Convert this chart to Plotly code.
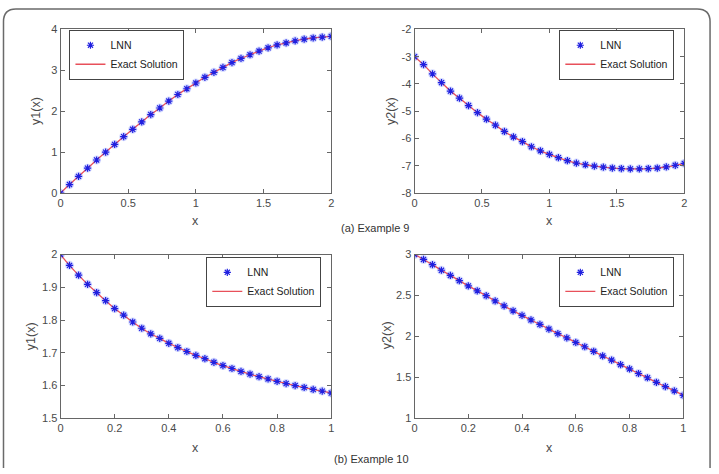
import plotly.graph_objects as go

W, H = 719, 474

# ---------------- data ----------------
x_ex9 = [i * 2 / 30 for i in range(31)]
x_ex10 = [i / 30 for i in range(31)]

y1_ex9 = [0.0, 0.21, 0.41, 0.61, 0.81, 1.0, 1.19, 1.38, 1.56, 1.74, 1.92, 2.08,
          2.25, 2.41, 2.55, 2.69, 2.83, 2.95, 3.07, 3.19, 3.29, 3.38, 3.47, 3.55,
          3.62, 3.67, 3.72, 3.76, 3.79, 3.81, 3.83]
y2_ex9 = [-3.0, -3.29, -3.63, -3.95, -4.26, -4.52, -4.79, -5.05, -5.29, -5.51,
          -5.74, -5.94, -6.11, -6.30, -6.45, -6.58, -6.70, -6.81, -6.90, -6.96,
          -7.01, -7.05, -7.08, -7.10, -7.11, -7.11, -7.10, -7.08, -7.04, -6.98,
          -6.91]
y1_ex10 = [2.0, 1.967, 1.937, 1.909, 1.884, 1.859, 1.835, 1.815, 1.794, 1.775,
           1.758, 1.744, 1.729, 1.716, 1.704, 1.692, 1.682, 1.671, 1.661, 1.652,
           1.643, 1.635, 1.627, 1.620, 1.613, 1.606, 1.600, 1.594, 1.588, 1.583,
           1.577]
y2_ex10 = [3.0, 2.94, 2.876, 2.808, 2.745, 2.681, 2.617, 2.557, 2.497, 2.433,
           2.373, 2.313, 2.257, 2.201, 2.146, 2.09, 2.034, 1.982, 1.926, 1.874,
           1.818, 1.762, 1.711, 1.655, 1.603, 1.547, 1.495, 1.439, 1.387, 1.335,
           1.28]

# tick values / labels (hyphen minus as in the original)
y2_ex9_tickvals = [-8, -7, -6, -5, -4, -3, -2]
y2_ex9_ticktext = ["-8", "-7", "-6", "-5", "-4", "-3", "-2"]

panels = [
    # x, y, xaxis, yaxis, legend, ytitle, yrange, dtick, xrange, xdtick
    (x_ex9, y1_ex9, "x", "y", "legend", "y1(x)", [0, 4], 1, [0, 2], 0.5),
    (x_ex9, y2_ex9, "x2", "y2", "legend2", "y2(x)", [-8, -2], 1, [0, 2], 0.5),
    (x_ex10, y1_ex10, "x3", "y3", "legend3", "y1(x)", [1.5, 2], 0.1, [0, 1], 0.2),
    (x_ex10, y2_ex10, "x4", "y4", "legend4", "y2(x)", [1, 3], 0.5, [0, 1], 0.2),
]

# pixel boxes of plot areas: (left, right, top, bottom)
boxes = [(58, 331, 24, 192), (415, 687, 24, 192),
         (58, 331, 255, 423), (415, 686, 255, 423)]
# legend box centres (pixels)
legend_ctr = [(125, 50), (619, 50), (263, 283), (619, 283)]
# axis-title positions (pixels): x-title centre, y-title centre
xtitle_pos = [(194, 221), (551, 221), (194, 453), (551, 453)]
ytitle_pos = [(34, 108), (392, 108), (29, 339), (388, 338)]

FONT = "Liberation Sans, Arial, sans-serif"
AX = "#666666"
TXT = "#4a4a4a"

fig = go.Figure()
layout = dict(width=W, height=H, margin=dict(l=0, r=0, t=0, b=0),
              paper_bgcolor="white", plot_bgcolor="white",
              font=dict(family=FONT, size=11, color=TXT))
annotations = []

for i, (xs, ys, xa, ya, lg, ytitle, yr, ydt, xr, xdt) in enumerate(panels):
    fig.add_trace(go.Scatter(x=xs, y=ys, xaxis=xa, yaxis=ya, mode="markers",
                             marker=dict(symbol="circle", size=9,
                                         color="rgba(120,140,255,0.30)"),
                             showlegend=False, hoverinfo="skip"))
    fig.add_trace(go.Scatter(x=xs, y=ys, xaxis=xa, yaxis=ya, mode="lines",
                             name="Exact Solution", legend=lg,
                             line=dict(color="#e8505a", width=1.3, shape="spline")))
    fig.add_trace(go.Scatter(x=xs, y=ys, xaxis=xa, yaxis=ya, mode="markers",
                             name="LNN", legend=lg,
                             marker=dict(symbol="asterisk-open", size=6,
                                         color="#2020e0",
                                         line=dict(color="#2020e0", width=1.2))))
    l, r, t, b = boxes[i]
    sfx = "" if i == 0 else str(i + 1)
    common = dict(showline=True, linecolor=AX, linewidth=1, mirror="ticks",
                  ticks="inside", ticklen=4, tickcolor=AX, showgrid=False,
                  zeroline=False, tickfont=dict(size=11, color=TXT, family=FONT))
    layout["xaxis" + sfx] = dict(domain=[l / W, r / W], range=xr, dtick=xdt,
                                 tick0=0, anchor=ya, **common)
    ydict = dict(domain=[1 - b / H, 1 - t / H], range=yr,
                 dtick=ydt, tick0=0, anchor=xa, **common)
    if i == 1:
        ydict.update(tickmode="array", tickvals=y2_ex9_tickvals,
                     ticktext=y2_ex9_ticktext)
    layout["yaxis" + sfx] = ydict
    cx, cy = legend_ctr[i]
    layout[lg] = dict(x=cx / W, y=1 - cy / H, xanchor="center", yanchor="middle",
                      bgcolor="white", bordercolor="#444", borderwidth=1,
                      font=dict(size=10.5, color="#222", family=FONT),
                      itemwidth=30, tracegroupgap=0, traceorder="reversed")
    tx, ty = xtitle_pos[i]
    annotations.append(dict(text="x", x=tx / W, y=1 - ty / H, xref="paper",
                            yref="paper", showarrow=False,
                            xanchor="center", yanchor="middle",
                            font=dict(size=12.5, color=TXT)))
    tx, ty = ytitle_pos[i]
    annotations.append(dict(text=ytitle, x=tx / W, y=1 - ty / H, xref="paper",
                            yref="paper", showarrow=False, textangle=-90,
                            xanchor="center", yanchor="middle",
                            font=dict(size=12.5, color=TXT)))

annotations += [
    dict(text="(a) Example 9", x=375 / W, y=1 - 228 / H, xref="paper",
         yref="paper", showarrow=False, xanchor="center", yanchor="middle",
         font=dict(size=11, color="#333")),
    dict(text="(b) Example 10", x=372 / W, y=1 - 465 / H, xref="paper",
         yref="paper", showarrow=False, xanchor="center", yanchor="middle",
         font=dict(size=11, color="#333")),
]
layout["annotations"] = annotations


def px(xp, yp):
    return f"{xp / W:.5f},{1 - yp / H:.5f}"


frame = (f"M {px(0.5, 474)} L {px(0.5, 16)} Q {px(0.5, 3)} {px(13, 3)} "
         f"L {px(700, 3)} Q {px(713, 3)} {px(713, 16)} L {px(713, 474)}")
layout["shapes"] = [dict(type="path", path=frame, xref="paper", yref="paper",
                         line=dict(color="#6a6a6a", width=1.5))]

fig.update_layout(**layout)
fig.write_html("out.html")
